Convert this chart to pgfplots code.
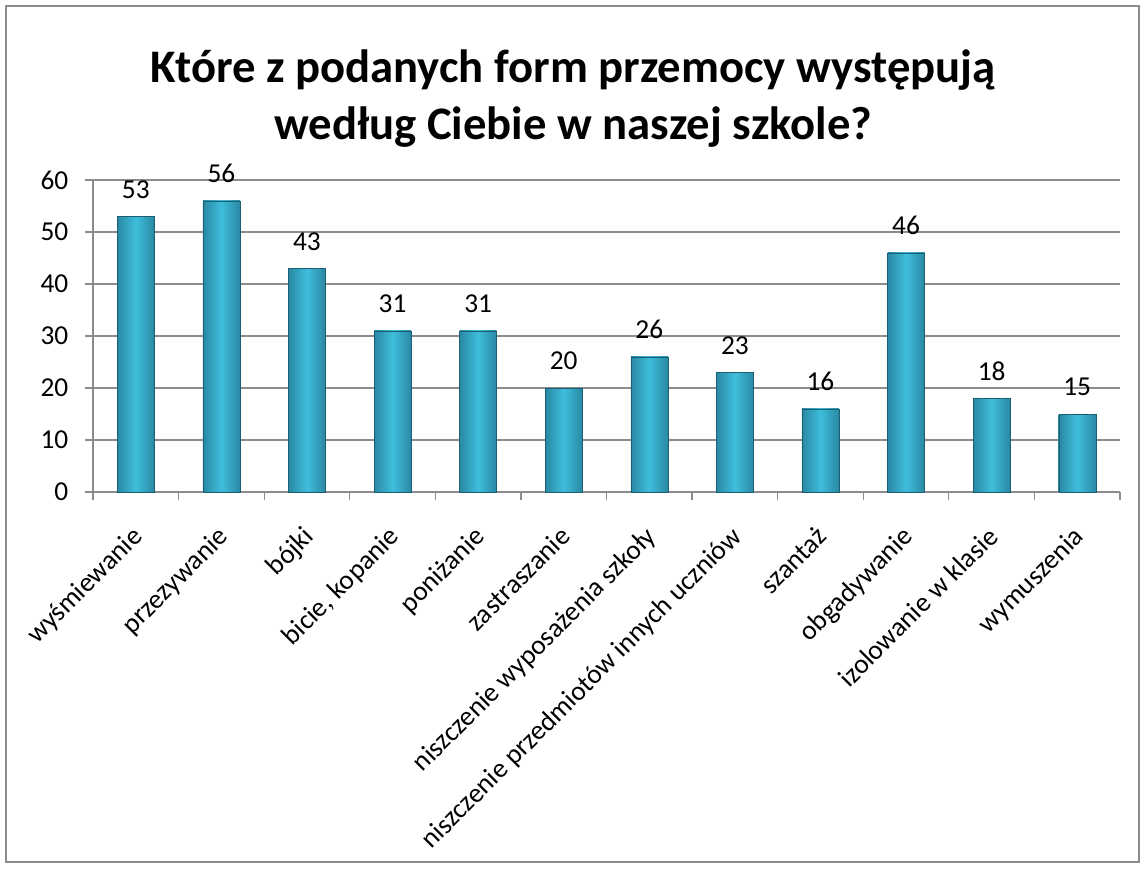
\documentclass[border=0pt]{standalone}
\usepackage{fontspec}
\setmainfont{Carlito}
\usepackage{pgfplots}
\pgfplotsset{compat=1.18}
\definecolor{barmid}{HTML}{3EBEDC}
\definecolor{baredge}{HTML}{2A88A3}
\definecolor{gridc}{HTML}{8C8C8C}
\begin{document}
\begin{tikzpicture}
\path (0,0) rectangle (858.75pt,651pt);
\draw[gridc, line width=0.9pt] (4.5pt,4.5pt) rectangle (854.25pt,646.5pt);
\node[align=center, font=\fontsize{35}{42.75}\selectfont\bfseries] at (430pt,577pt) {Które z podanych form przemocy występują\\według Ciebie w naszej szkole?};
\begin{axis}[
  at={(69.75pt,282pt)}, anchor=south west,
  scale only axis, width=770.25pt, height=234pt,
  xmin=-0.5, xmax=11.5, ymin=0, ymax=60,
  ytick={0,10,...,60},
  xtick={0,...,11},
  xticklabels={wyśmiewanie,przezywanie,bójki,{bicie, kopanie},poniżanie,zastraszanie,niszczenie wyposażenia szkoły,niszczenie przedmiotów innych uczniów,szantaż,obgadywanie,izolowanie w klasie,wymuszenia},
  minor xtick={-0.5,0.5,...,11.5},
  major x tick style={draw=none},
  minor tick length=6pt,
  major tick length=6pt,
  tick align=outside,
  tick style={gridc, line width=0.9pt},
  axis x line*=bottom, axis y line*=left,
  axis line style={gridc, line width=0.9pt, -},
  ymajorgrids, grid style={gridc, line width=0.9pt},
  /pgf/number format/assume math mode=true,
  tick label style={font=\fontsize{20.5}{22}\selectfont, black},
  x tick label style={xshift=-4pt, yshift=-17pt, rotate=45, anchor=north east, inner sep=1pt},
  yticklabel style={xshift=-9pt},
  nodes near coords,
  every node near coord/.append style={font=\fontsize{20.5}{22}\selectfont, black, yshift=10pt},
  ybar, bar width=27.75pt, bar shift=0pt,
  mybar/.style={draw=baredge!70!black, line width=0.3pt, left color=baredge, right color=baredge, middle color=barmid},
]
\addplot[mybar] coordinates {(0,53)};
\addplot[mybar] coordinates {(1,56)};
\addplot[mybar] coordinates {(2,43)};
\addplot[mybar] coordinates {(3,31)};
\addplot[mybar] coordinates {(4,31)};
\addplot[mybar] coordinates {(5,20)};
\addplot[mybar] coordinates {(6,26)};
\addplot[mybar] coordinates {(7,23)};
\addplot[mybar] coordinates {(8,16)};
\addplot[mybar] coordinates {(9,46)};
\addplot[mybar] coordinates {(10,18)};
\addplot[mybar] coordinates {(11,15)};
\end{axis}
\end{tikzpicture}
\end{document}
